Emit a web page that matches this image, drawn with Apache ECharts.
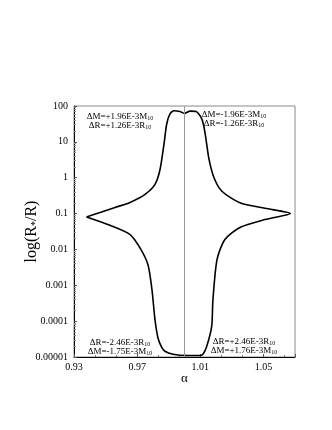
<!DOCTYPE html>
<html>
<head>
<meta charset="utf-8">
<script src="https://cdn.jsdelivr.net/npm/echarts@6/dist/echarts.min.js"></script>
<style>
  html, body { margin: 0; padding: 0; background: #fff; }
  #chart { width: 332px; height: 430px; }
</style>
</head>
<body>
<div id="chart"></div>
<script>
// closed curve, going clockwise from the left tip
var alpha = [
    0.9379, 0.9465, 0.9560, 0.9655, 0.9750, 0.9813, 0.9845, 0.9870, 0.9887, 0.9908,
    0.9933, 0.9971, 1.0000, 1.0035, 1.0073, 1.0104, 1.0120, 1.0136, 1.0155, 1.0187,
    1.0237, 1.0351, 1.0510, 1.0670,
    1.0510, 1.0351, 1.0256, 1.0206, 1.0180, 1.0172, 1.0140, 1.0117, 1.0098, 1.0014,
    0.9927, 0.9876, 0.9855, 0.9832, 0.9813, 0.9794, 0.9769, 0.9718, 0.9655, 0.9528,
    0.9379
];
var ratio = [
    0.08, 0.107, 0.148, 0.205, 0.343, 0.65, 1.7, 8.6, 31, 60,
    74, 70, 62, 72, 70, 49, 31, 12, 3.3, 1.0,
    0.42, 0.2, 0.14, 0.1,
    0.068, 0.041, 0.019, 0.0052, 0.00039, 0.00007, 0.0000193, 0.000012, 0.000011, 0.000011,
    0.000012, 0.0000145, 0.000019, 0.000034, 0.00011, 0.00074, 0.0037, 0.011, 0.026, 0.047,
    0.08
];
var yTicks = ['100', '10', '1', '0.1', '0.01', '0.001', '0.0001', '0.00001'];
var notes = [
    { lines: ['ΔM=+1.96E-3M{s|10}', 'ΔR=+1.26E-3R{s|10}'], x: 120, y: 112 },
    { lines: ['ΔM=-1.96E-3M{s|10}', 'ΔR=-1.26E-3R{s|10}'], x: 234, y: 110.5 },
    { lines: ['ΔR=-2.46E-3R{s|10}', 'ΔM=-1.75E-3M{s|10}'], x: 120, y: 338 },
    { lines: ['ΔR=+2.46E-3R{s|10}', 'ΔM=+1.76E-3M{s|10}'], x: 244, y: 337 }
];

var FONT = '"Liberation Serif", "DejaVu Serif", serif';

var points = alpha.map(function (a, i) { return [a, ratio[i]]; });

var chart = echarts.init(document.getElementById('chart'));

var graphics = notes.map(function (n) {
    return {
        type: 'text',
        x: n.x,
        y: n.y,
        z: 10,
        style: {
            text: n.lines.join('\n'),
            align: 'center',
            verticalAlign: 'top',
            fill: '#000',
            font: '9px ' + FONT,
            lineHeight: 9,
            rich: {
                s: { fontSize: 6, fontFamily: FONT, verticalAlign: 'bottom', padding: [3, 0, 0, 0], lineHeight: 9 }
            }
        }
    };
});

chart.setOption({
    animation: false,
    grid: {
        left: 74, right: 37, top: 106, bottom: 73,
        show: true, borderColor: '#8a8a8a', borderWidth: 1
    },
    xAxis: {
        type: 'value',
        min: 0.93, max: 1.07, interval: 0.04,
        name: 'α',
        nameLocation: 'middle',
        nameGap: 15,
        nameMoveOverlap: false,
        nameTextStyle: { fontFamily: FONT, fontSize: 13, color: '#000' },
        axisLine: { lineStyle: { color: '#000', width: 1 } },
        axisTick: { inside: true, length: 3, lineStyle: { color: '#555' } },
        minorTick: { show: true, splitNumber: 3, length: 2, lineStyle: { color: '#777' } },
        axisLabel: {
            showMaxLabel: false, margin: 5,
            fontFamily: FONT, fontSize: 10, color: '#000',
            formatter: function (v) { return v.toFixed(2); }
        },
        splitLine: { show: false }
    },
    yAxis: {
        type: 'log',
        logBase: 10,
        min: 0.00001, max: 100,
        name: 'log(R{s|*}/R)',
        nameLocation: 'middle',
        nameGap: 34,
        nameMoveOverlap: false,
        nameTextStyle: {
            fontFamily: FONT, fontSize: 16, color: '#000',
            rich: { s: { fontSize: 10, fontFamily: FONT, verticalAlign: 'bottom', padding: [6, 0, 0, 0] } }
        },
        axisLine: { show: true, lineStyle: { color: '#000', width: 1 } },
        axisTick: { inside: true, length: 3, lineStyle: { color: '#555' } },
        minorTick: { show: true, splitNumber: 9, length: 2, lineStyle: { color: '#888' } },
        axisLabel: {
            margin: 6,
            fontFamily: FONT, fontSize: 10, color: '#000',
            formatter: function (v) {
                var k = Math.round(2 - Math.log10(v));
                return yTicks[k];
            }
        },
        splitLine: { show: false }
    },
    graphic: graphics,
    series: [{
        type: 'line',
        data: points,
        showSymbol: false,
        smooth: 0.25,
        lineStyle: { color: '#000', width: 1.6 },
        markLine: {
            silent: true,
            symbol: 'none',
            label: { show: false },
            lineStyle: { color: '#999', width: 1, type: 'solid' },
            data: [{ xAxis: 1.0 }]
        }
    }]
});
</script>
</body>
</html>
